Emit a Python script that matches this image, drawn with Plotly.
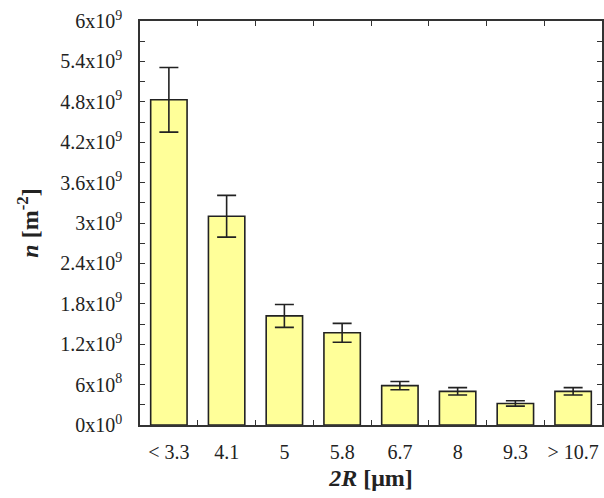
import plotly.graph_objects as go

# Particle size classes (diameter 2R, µm) and areal number density n (m^-2)
size_classes = ["< 3.3", "4.1", "5", "5.8", "6.7", "8", "9.3", "> 10.7"]
density = [4.83e9, 3.10e9, 1.62e9, 1.37e9, 0.585e9, 0.50e9, 0.32e9, 0.50e9]
density_err = [0.48e9, 0.31e9, 0.17e9, 0.14e9, 0.062e9, 0.055e9, 0.04e9, 0.055e9]

# y tick values and their scientific-notation labels
y_tick_vals = [0, 0.6e9, 1.2e9, 1.8e9, 2.4e9, 3.0e9, 3.6e9, 4.2e9, 4.8e9, 5.4e9, 6.0e9]
y_tick_text = ["0x10<sup>0</sup>", "6x10<sup>8</sup>", "1.2x10<sup>9</sup>",
               "1.8x10<sup>9</sup>", "2.4x10<sup>9</sup>", "3x10<sup>9</sup>",
               "3.6x10<sup>9</sup>", "4.2x10<sup>9</sup>", "4.8x10<sup>9</sup>",
               "5.4x10<sup>9</sup>", "6x10<sup>9</sup>"]

FONT = "Liberation Serif, Times New Roman, serif"
AXIS_COLOR = "#333333"

fig = go.Figure(
    go.Bar(
        x=size_classes,
        y=density,
        width=0.63,
        marker=dict(color="#FFFF99", line=dict(color="#222222", width=1.6)),
        error_y=dict(type="data", array=density_err, visible=True,
                     color="#222222", thickness=1.6, width=9.5),
    )
)

fig.update_layout(
    width=604,
    height=498,
    margin=dict(l=140, r=2, t=21, b=73, autoexpand=False),
    paper_bgcolor="white",
    plot_bgcolor="white",
    showlegend=False,
    font=dict(family=FONT, size=20, color="#222222"),
)

fig.update_xaxes(
    type="category",
    range=[-0.5, 7.5],
    automargin=False,
    tickangle=0,
    showline=True, linecolor=AXIS_COLOR, linewidth=1.5,
    mirror="ticks",
    ticks="inside", ticklen=5, tickwidth=1.2, tickcolor=AXIS_COLOR,
    tickson="boundaries",
    ticklabelstandoff=8,
    showgrid=False,
    tickfont=dict(family=FONT, size=20),
    title=dict(text="<b><i>2R</i> [μm]</b>", font=dict(family=FONT, size=24), standoff=7),
)

fig.update_yaxes(
    range=[0, 6e9],
    automargin=False,
    tickmode="array", tickvals=y_tick_vals, ticktext=y_tick_text,
    showline=True, linecolor=AXIS_COLOR, linewidth=1.5,
    mirror="ticks",
    ticks="inside", ticklen=5, tickwidth=1.2, tickcolor=AXIS_COLOR,
    minor=dict(dtick=0.3e9, tick0=0, ticks="inside", ticklen=5,
               tickwidth=1.2, tickcolor=AXIS_COLOR, showgrid=False),
    ticklabelstandoff=12,
    showgrid=False, zeroline=False,
    tickfont=dict(family=FONT, size=20),
    title=dict(text="<b><i>n</i> [m<sup>-2</sup>]</b>", font=dict(family=FONT, size=24), standoff=15),
)

fig.write_html("out.html")
